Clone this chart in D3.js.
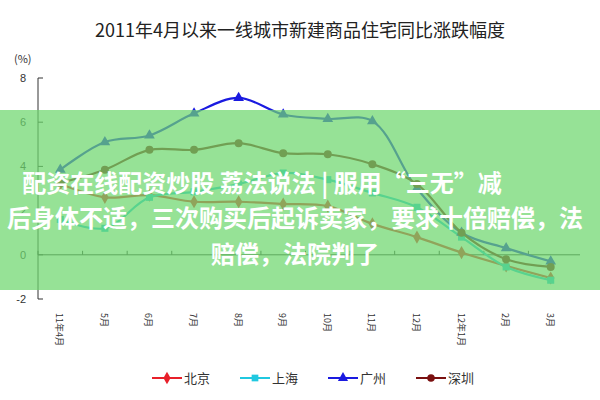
<!DOCTYPE html>
<html><head><meta charset="utf-8">
<script src="https://cdn.jsdelivr.net/npm/d3@7"></script>
<style>body{margin:0;background:#fff}</style>
</head><body>
<svg id="chart" width="600" height="400"></svg>
<script>
var months = ["11年4月","5月","6月","7月","8月","9月","10月","11月","12月","12年1月","2月","3月"];
var beijing = [3.2, 2.6, 2.7, 2.4, 2.4, 2.3, 2.2, 1.4, 0.8, 0.1, -0.5, -1.05];
var shanghai = [1.6, 1.2, 2.6, 2.85, 3.2, 3.7, 3.4, 2.8, 2.15, 0.8, -0.55, -1.15];
var guangzhou = [3.85, 5.1, 5.4, 6.4, 7.1, 6.35, 6.15, 6.05, 3.0, 1.0, 0.3, -0.3];
var shenzhen = [3.25, 3.85, 4.75, 4.75, 5.05, 4.6, 4.55, 4.1, 3.2, 1.0, -0.2, -0.55];
var yTicks = [-2, 0, 2, 4, 6, 8];

var series = [
  {name: "北京", values: beijing, color: "#e8202a", shape: d3.symbolDiamond},
  {name: "上海", values: shanghai, color: "#20c8e0", shape: d3.symbolSquare},
  {name: "广州", values: guangzhou, color: "#1a1ae0", shape: d3.symbolTriangle},
  {name: "深圳", values: shenzhen, color: "#7a1010", shape: d3.symbolCircle}
];

var svg = d3.select("#chart");
var font = "'Noto Sans CJK SC', sans-serif";

svg.append("text").attr("x", 300).attr("y", 37).attr("text-anchor", "middle")
  .attr("font-family", font).attr("font-size", 18).attr("fill", "#222")
  .text("2011年4月以来一线城市新建商品住宅同比涨跌幅度");
svg.append("text").attr("x", 14).attr("y", 63).attr("font-family", font)
  .attr("font-size", 11).attr("fill", "#333").text("(%)");

var x = d3.scaleBand().domain(months).range([38, 573]);
var y = d3.scaleLinear().domain([-2, 8]).range([299, 78]);

var g = svg.append("g");
g.append("line").attr("x1", 38).attr("x2", 38).attr("y1", y(8)).attr("y2", y(-2)).attr("stroke", "#333");
g.append("line").attr("x1", 38).attr("x2", 580).attr("y1", y(0)).attr("y2", y(0)).attr("stroke", "#333");
yTicks.forEach(function(t) {
  g.append("line").attr("x1", 38).attr("x2", 43).attr("y1", y(t)).attr("y2", y(t)).attr("stroke", "#333");
  g.append("text").attr("x", 26).attr("y", y(t) + 4).attr("text-anchor", "end")
    .attr("font-family", "Arial, sans-serif").attr("font-size", 11).attr("fill", "#333").text(t);
});
months.forEach(function(m, i) {
  g.append("line").attr("x1", x(m)).attr("x2", x(m)).attr("y1", y(0)).attr("y2", y(0) - 4).attr("stroke", "#333");
  g.append("text").attr("transform", "translate(" + (x(m) + x.bandwidth() / 2 - 4) + ",313) rotate(90)")
    .attr("font-family", font).attr("font-size", 9).attr("fill", "#333").text(m);
});

var line = d3.line().curve(d3.curveCatmullRom)
  .x(function(d, i) { return x(months[i]) + x.bandwidth() / 2; })
  .y(function(d) { return y(d); });

series.forEach(function(s) {
  g.append("path").attr("d", line(s.values)).attr("fill", "none")
    .attr("stroke", s.color).attr("stroke-width", 2.2);
  g.selectAll(null).data(s.values).enter().append("path")
    .attr("d", d3.symbol().type(s.shape).size(50))
    .attr("transform", function(d, i) { return "translate(" + (x(months[i]) + x.bandwidth() / 2) + "," + y(d) + ")"; })
    .attr("fill", s.color);
});

// legend
var lx = 152;
series.forEach(function(s) {
  svg.append("line").attr("x1", lx).attr("x2", lx + 30).attr("y1", 378).attr("y2", 378)
    .attr("stroke", s.color).attr("stroke-width", 2);
  svg.append("path").attr("d", d3.symbol().type(s.shape).size(45)())
    .attr("transform", "translate(" + (lx + 15) + ",378)").attr("fill", s.color);
  svg.append("text").attr("x", lx + 32).attr("y", 383).attr("font-family", font)
    .attr("font-size", 13).attr("fill", "#333").text(s.name);
  lx += 88;
});

// overlay banner
svg.append("rect").attr("x", 0).attr("y", 110).attr("width", 600).attr("height", 180)
  .attr("fill", "rgb(110,215,110)").attr("opacity", 0.72);
var lines = [
  ["配资在线配资炒股 荔法说法 | 服用“三无”减", 262, 192],
  ["后身体不适，三次购买后起诉卖家，要求十倍赔偿，法", 295, 227],
  ["赔偿，法院判了", 295, 263]
];
lines.forEach(function(l) {
  svg.append("text").attr("x", l[1]).attr("y", l[2]).attr("text-anchor", "middle")
    .attr("font-family", font).attr("font-weight", "bold").attr("font-size", 24)
    .attr("fill", "#fff").text(l[0]);
});
</script>
</body></html>
